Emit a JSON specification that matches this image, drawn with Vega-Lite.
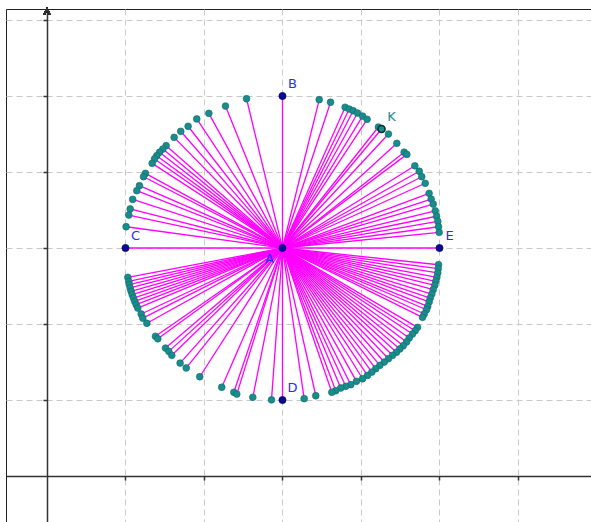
{
  "$schema": "https://vega.github.io/schema/vega-lite/v6.json",
  "width": 585,
  "height": 513,
  "autosize": {"type": "none"},
  "padding": {"left": 6, "top": 9, "right": 0, "bottom": 0},
  "background": "white",
  "view": {"stroke": "#222", "strokeWidth": 1},
  "data": {"values": [
    {"x":2.542,"y":4.964,"k":"d"},{"x":2.274,"y":4.868,"k":"d"},{"x":2.062,"y":4.772,"k":"d"},{"x":1.908,"y":4.698,"k":"d"},
    {"x":1.798,"y":4.602,"k":"d"},{"x":1.704,"y":4.536,"k":"d"},{"x":1.620,"y":4.456,"k":"d"},{"x":1.518,"y":4.346,"k":"d"},
    {"x":1.476,"y":4.302,"k":"d"},{"x":1.434,"y":4.260,"k":"d"},{"x":1.398,"y":4.214,"k":"d"},{"x":1.370,"y":4.172,"k":"d"},
    {"x":1.340,"y":4.114,"k":"d"},{"x":1.254,"y":3.982,"k":"d"},{"x":1.230,"y":3.938,"k":"d"},{"x":1.178,"y":3.820,"k":"d"},
    {"x":1.144,"y":3.754,"k":"d"},{"x":1.092,"y":3.640,"k":"d"},{"x":1.060,"y":3.514,"k":"d"},{"x":1.042,"y":3.434,"k":"d"},
    {"x":1.008,"y":3.280,"k":"d"},
    {"x":3.468,"y":4.952,"k":"d"},{"x":3.612,"y":4.918,"k":"d"},{"x":3.798,"y":4.852,"k":"d"},{"x":3.850,"y":4.828,"k":"d"},
    {"x":3.900,"y":4.806,"k":"d"},{"x":3.956,"y":4.776,"k":"d"},{"x":4.020,"y":4.736,"k":"d"},{"x":4.078,"y":4.694,"k":"d"},
    {"x":4.222,"y":4.592,"k":"d"},{"x":4.350,"y":4.500,"k":"d"},{"x":4.456,"y":4.378,"k":"d"},{"x":4.550,"y":4.260,"k":"d"},
    {"x":4.584,"y":4.232,"k":"d"},{"x":4.686,"y":4.082,"k":"d"},{"x":4.742,"y":4.010,"k":"d"},{"x":4.774,"y":3.938,"k":"d"},
    {"x":4.818,"y":3.852,"k":"d"},{"x":4.868,"y":3.720,"k":"d"},{"x":4.894,"y":3.644,"k":"d"},{"x":4.920,"y":3.578,"k":"d"},
    {"x":4.946,"y":3.490,"k":"d"},{"x":4.962,"y":3.418,"k":"d"},{"x":4.978,"y":3.352,"k":"d"},{"x":4.988,"y":3.280,"k":"d"},
    {"x":4.996,"y":3.206,"k":"d"},
    {"x":1.030,"y":2.614,"k":"d"},{"x":1.042,"y":2.562,"k":"d"},{"x":1.050,"y":2.518,"k":"d"},{"x":1.060,"y":2.474,"k":"d"},
    {"x":1.072,"y":2.430,"k":"d"},{"x":1.086,"y":2.386,"k":"d"},{"x":1.102,"y":2.342,"k":"d"},{"x":1.118,"y":2.298,"k":"d"},
    {"x":1.136,"y":2.254,"k":"d"},{"x":1.156,"y":2.210,"k":"d"},{"x":1.200,"y":2.132,"k":"d"},{"x":1.220,"y":2.078,"k":"d"},
    {"x":1.272,"y":2.010,"k":"d"},{"x":1.382,"y":1.838,"k":"d"},{"x":1.412,"y":1.806,"k":"d"},{"x":1.510,"y":1.684,"k":"d"},
    {"x":1.552,"y":1.640,"k":"d"},{"x":1.590,"y":1.588,"k":"d"},{"x":1.696,"y":1.486,"k":"d"},{"x":1.774,"y":1.422,"k":"d"},
    {"x":1.946,"y":1.306,"k":"d"},{"x":2.226,"y":1.168,"k":"d"},{"x":2.380,"y":1.102,"k":"d"},{"x":2.418,"y":1.078,"k":"d"},
    {"x":2.622,"y":1.036,"k":"d"},{"x":2.860,"y":1.002,"k":"d"},
    {"x":4.988,"y":2.780,"k":"d"},{"x":4.984,"y":2.728,"k":"d"},{"x":4.978,"y":2.672,"k":"d"},{"x":4.966,"y":2.614,"k":"d"},
    {"x":4.952,"y":2.562,"k":"d"},{"x":4.940,"y":2.510,"k":"d"},{"x":4.920,"y":2.452,"k":"d"},{"x":4.902,"y":2.394,"k":"d"},
    {"x":4.882,"y":2.342,"k":"d"},{"x":4.868,"y":2.290,"k":"d"},{"x":4.850,"y":2.232,"k":"d"},{"x":4.834,"y":2.188,"k":"d"},
    {"x":4.806,"y":2.132,"k":"d"},{"x":4.784,"y":2.088,"k":"d"},{"x":4.720,"y":1.956,"k":"d"},{"x":4.690,"y":1.912,"k":"d"},
    {"x":4.656,"y":1.868,"k":"d"},{"x":4.614,"y":1.816,"k":"d"},{"x":4.580,"y":1.764,"k":"d"},{"x":4.538,"y":1.714,"k":"d"},
    {"x":4.494,"y":1.672,"k":"d"},{"x":4.452,"y":1.628,"k":"d"},{"x":4.402,"y":1.588,"k":"d"},{"x":4.350,"y":1.544,"k":"d"},
    {"x":4.296,"y":1.500,"k":"d"},{"x":4.240,"y":1.456,"k":"d"},{"x":4.188,"y":1.412,"k":"d"},{"x":4.138,"y":1.368,"k":"d"},
    {"x":4.082,"y":1.324,"k":"d"},{"x":4.020,"y":1.280,"k":"d"},{"x":3.942,"y":1.246,"k":"d"},{"x":3.870,"y":1.202,"k":"d"},
    {"x":3.806,"y":1.180,"k":"d"},{"x":3.742,"y":1.158,"k":"d"},{"x":3.678,"y":1.122,"k":"d"},{"x":3.628,"y":1.102,"k":"d"},
    {"x":3.424,"y":1.056,"k":"d"},{"x":3.276,"y":1.018,"k":"d"},
    {"x":4.262,"y":4.566,"k":"K","n":"K"},
    {"x":3,"y":5,"k":"p","n":"B"},
    {"x":1,"y":3,"k":"p","n":"C"},
    {"x":3,"y":1,"k":"p","n":"D"},
    {"x":5,"y":3,"k":"p","n":"E"},
    {"x":3,"y":3,"k":"c","n":"A"}
  ]},
  "encoding": {
    "x": {
      "field": "x", "type": "quantitative",
      "scale": {"domain": [-0.522, 6.93], "nice": false, "zero": false},
      "axis": {
        "orient": "bottom", "offset": -46, "values": [1,2,3,4,5,6],
        "labels": false, "title": null,
        "grid": true, "gridDash": [6,4], "gridColor": "#c8c8c8", "gridWidth": 1,
        "domainColor": "#333333", "domainWidth": 1.5,
        "tickColor": "#333333", "tickSize": 4, "tickWidth": 1.5
      }
    },
    "y": {
      "field": "y", "type": "quantitative",
      "scale": {"domain": [-0.605, 6.145], "nice": false, "zero": false},
      "axis": {
        "orient": "left", "offset": -41, "values": [1,2,3,4,5,6],
        "labels": false, "title": null,
        "grid": true, "gridDash": [6,4], "gridColor": "#c8c8c8", "gridWidth": 1,
        "domainColor": "#333333", "domainWidth": 1.5,
        "tickColor": "#333333", "tickSize": 4, "tickWidth": 1.5
      }
    }
  },
  "layer": [
    {
      "transform": [{"filter": "datum.k !== 'c'"}],
      "mark": {"type": "rule", "color": "#ff00ff", "strokeWidth": 1.3},
      "encoding": {"x2": {"datum": 3}, "y2": {"datum": 3}}
    },
    {
      "transform": [{"filter": "datum.k === 'd'"}],
      "mark": {"type": "point", "shape": "circle", "filled": true, "size": 46, "fill": "#1a8c8c", "stroke": "#0e6a6a", "strokeWidth": 0.6, "opacity": 1}
    },
    {
      "transform": [{"filter": "datum.k === 'K'"}],
      "mark": {"type": "point", "shape": "circle", "filled": true, "size": 50, "fill": "#1a8c8c", "stroke": "#0a2a2a", "strokeWidth": 1.5, "opacity": 1}
    },
    {
      "transform": [{"filter": "datum.k === 'p' || datum.k === 'c'"}],
      "mark": {"type": "point", "shape": "circle", "filled": true, "size": 50, "fill": "#0a0a99", "stroke": "#000066", "strokeWidth": 0.8, "opacity": 1}
    },
    {
      "transform": [{"filter": "datum.k === 'p' || datum.k === 'K'"}],
      "mark": {"type": "text", "dx": 10, "dy": -12, "font": "DejaVu Sans", "fontSize": 13, "align": "center", "baseline": "middle"},
      "encoding": {
        "text": {"field": "n"},
        "color": {"condition": {"test": "datum.k === 'K'", "value": "#1a8c8c"}, "value": "#2a2aff"}
      }
    },
    {
      "transform": [{"filter": "datum.k === 'c'"}],
      "mark": {"type": "text", "dx": -13, "dy": 11, "font": "DejaVu Sans", "fontSize": 13, "align": "center", "baseline": "middle", "color": "#2a2aff"},
      "encoding": {"text": {"field": "n"}}
    },
    {
      "mark": {"type": "point", "shape": "M-1,1L0,-1L1,1", "filled": false, "size": 30, "stroke": "#333333", "strokeWidth": 1.2, "opacity": 1},
      "encoding": {"x": {"datum": 0, "type": "quantitative"}, "y": {"datum": 6.11, "type": "quantitative"}}
    }
  ]
}
